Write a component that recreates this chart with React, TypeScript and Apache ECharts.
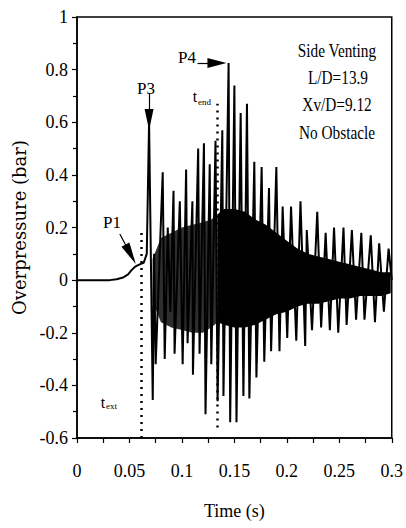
import React, { useEffect, useRef } from "react";
import * as echarts from "echarts";

// Axis ticks
const xTicks = [0, 0.05, 0.1, 0.15, 0.2, 0.25, 0.3];
const xTickLabels = ["0", "0.05", "0.1", "0.15", "0.2", "0.25", "0.3"];
const yTicks = [-0.6, -0.4, -0.2, 0, 0.2, 0.4, 0.6, 0.8, 1];
const yTickLabels = ["-0.6", "-0.4", "-0.2", "0", "0.2", "0.4", "0.6", "0.8", "1"];

// Pressure trace: time (s) and overpressure (bar), peaks and troughs
const signalTime = [
  0, 0.01, 0.02, 0.0313, 0.0377, 0.044, 0.0487, 0.052, 0.0551, 0.0582, 0.0614, 0.0636,
  0.0665, 0.0687, 0.0722, 0.0735, 0.075, 0.0817, 0.0836, 0.0865, 0.089, 0.092, 0.093,
  0.098, 0.1007, 0.104, 0.1054, 0.11, 0.1105, 0.1155, 0.1168, 0.121, 0.1225, 0.1265,
  0.128, 0.132, 0.134, 0.1385, 0.1396, 0.1445, 0.146, 0.15, 0.152, 0.156, 0.1586, 0.162,
  0.1643, 0.169, 0.171, 0.176, 0.1785, 0.183, 0.185, 0.19, 0.193, 0.196, 0.2004, 0.204,
  0.209, 0.213, 0.2175, 0.219, 0.224, 0.229, 0.2327, 0.237, 0.241, 0.245, 0.249, 0.254,
  0.257, 0.262, 0.266, 0.271, 0.274, 0.28, 0.284, 0.288, 0.2925, 0.297, 0.3,
];
const signalP = [
  0, 0, 0, 0, 0.003, 0.01, 0.022, 0.038, 0.05, 0.057, 0.063, 0.066,
  0.1, 0.6, -0.456, 0.1, -0.32, 0.41, -0.3, 0.2, -0.12, 0.34, -0.28,
  0.3, -0.32, 0.42, -0.24, 0.3, -0.36, 0.5, -0.28, 0.52, -0.51, 0.44,
  -0.32, 0.53, -0.46, 0.57, -0.44, 0.825, -0.54, 0.74, -0.54, 0.635, -0.44, 0.67,
  -0.45, 0.45, -0.37, 0.43, -0.31, 0.35, -0.27, 0.43, -0.27, 0.28, -0.22, 0.28,
  -0.23, 0.3, -0.25, 0.19, -0.19, 0.26, -0.18, 0.18, -0.19, 0.2, -0.2, 0.2,
  -0.17, 0.19, -0.15, 0.18, -0.15, 0.17, -0.16, 0.14, -0.12, 0.12, 0,
];

// Early, partly-filled oscillation band (0.07–0.134 s)
const earlyTime = [0.072, 0.08, 0.09, 0.1, 0.11, 0.12, 0.128, 0.134];
const earlyUpper = [0.08, 0.16, 0.18, 0.2, 0.21, 0.22, 0.23, 0.25];
const earlyLower = [-0.08, -0.16, -0.18, -0.19, -0.2, -0.2, -0.18, -0.16];

// Dense, solid oscillation core (0.134–0.3 s)
const coreTime = [
  0.134, 0.14, 0.15, 0.16, 0.17, 0.18, 0.19, 0.2, 0.21, 0.22, 0.23, 0.24, 0.25, 0.26,
  0.27, 0.28, 0.29, 0.299,
];
const coreUpper = [
  0.25, 0.27, 0.27, 0.26, 0.23, 0.21, 0.18, 0.15, 0.12, 0.1, 0.09, 0.08, 0.07, 0.06,
  0.05, 0.04, 0.03, 0.03,
];
const coreLower = [
  -0.16, -0.17, -0.18, -0.18, -0.17, -0.15, -0.13, -0.12, -0.1, -0.09, -0.09, -0.08, -0.07, -0.07,
  -0.06, -0.06, -0.06, -0.05,
];

// Characteristic times (s)
const tExt = 0.0614;
const tEnd = 0.1333;

function lookup(ticks: number[], labels: string[], v: number): string {
  const i = ticks.findIndex((t) => Math.abs(t - v) < 1e-9);
  return i >= 0 ? labels[i] : "";
}

export default function App() {
  const ref = useRef<HTMLDivElement>(null);
  useEffect(() => {
    const chart = echarts.init(ref.current!, null, { renderer: "svg" });
    const serif = "Liberation Serif";
    const signal = signalTime.map((t, i) => [t, signalP[i]]);
    const bands = [
      { time: earlyTime, upper: earlyUpper, lower: earlyLower, opacity: 0.82 },
      { time: coreTime, upper: coreUpper, lower: coreLower, opacity: 1 },
    ];
    const dotted = { color: "#000", width: 2.5, type: [2, 5] as any };
    const arrowLine = { color: "#000", width: 1.2, type: "solid" as const };
    const txt = (x: number, y: number, text: string, size: number, extra: any = {}) => ({
      type: "text",
      x,
      y,
      z: 100,
      style: {
        text,
        fontFamily: serif,
        fontSize: size,
        fill: "#000",
        align: "center",
        verticalAlign: "middle",
        ...extra,
      },
    });
    chart.setOption({
      animation: false,
      grid: {
        left: 77,
        right: 13,
        top: 17,
        bottom: 90,
        show: true,
        borderColor: "#000",
        borderWidth: 1.5,
      },
      xAxis: {
        type: "value",
        min: 0,
        max: 0.3,
        interval: 0.05,
        name: "Time (s)",
        nameLocation: "middle",
        nameGap: 64,
        nameTextStyle: { fontFamily: serif, fontSize: 18, color: "#000" },
        axisLine: { onZero: false, lineStyle: { color: "#000", width: 1.5 } },
        axisTick: { show: true, inside: false, length: 5, lineStyle: { color: "#000", width: 1.2 } },
        minorTick: { show: true, splitNumber: 2, length: 5, lineStyle: { color: "#000", width: 1.2 } },
        splitLine: { show: false },
        axisLabel: {
          margin: 24,
          fontFamily: serif,
          fontSize: 18,
          color: "#000",
          formatter: (v: number) => lookup(xTicks, xTickLabels, v),
        },
      },
      yAxis: {
        type: "value",
        min: -0.6,
        max: 1,
        interval: 0.2,
        name: "Overpressure (bar)",
        nameLocation: "middle",
        nameGap: 47,
        nameTextStyle: { fontFamily: "DejaVu Serif", fontSize: 18, color: "#000" },
        axisLine: { onZero: false, lineStyle: { color: "#000", width: 1.5 } },
        axisTick: { show: true, inside: false, length: 5, lineStyle: { color: "#000", width: 1.2 } },
        minorTick: { show: true, splitNumber: 2, length: 4, lineStyle: { color: "#000", width: 1.2 } },
        splitLine: { show: false },
        axisLabel: {
          margin: 9,
          fontFamily: serif,
          fontSize: 18,
          color: "#000",
          formatter: (v: number) => lookup(yTicks, yTickLabels, v),
        },
      },
      series: [
        {
          type: "custom",
          z: 1,
          data: bands.map((b) => [b.time[0], b.upper[0]]),
          renderItem: (p: any, api: any) => {
            const b = bands[p.dataIndex];
            const upper = b.time.map((t, i) => api.coord([t, b.upper[i]]));
            const lower = b.time.map((t, i) => api.coord([t, b.lower[i]])).reverse();
            return {
              type: "polygon",
              shape: { points: upper.concat(lower) },
              style: { fill: "#000", opacity: b.opacity },
            };
          },
        },
        {
          type: "line",
          z: 2,
          data: signal,
          showSymbol: false,
          symbol: "none",
          lineStyle: { color: "#000", width: 2 },
          markLine: {
            silent: true,
            animation: false,
            label: { show: false },
            data: [
              [
                { coord: [tExt, -0.6], symbol: "none", lineStyle: dotted },
                { coord: [tExt, 0.18], symbol: "none", lineStyle: dotted },
              ],
              [
                { coord: [tEnd, -0.56], symbol: "none", lineStyle: dotted },
                { coord: [tEnd, 0.67], symbol: "none", lineStyle: dotted },
              ],
              [
                { coord: [0.0408, 0.175], symbol: "none", lineStyle: arrowLine },
                { coord: [0.0511, 0.098], symbol: "triangle", symbolSize: [9, 22], lineStyle: arrowLine },
              ],
              [
                { coord: [0.0687, 0.71], symbol: "none", lineStyle: arrowLine },
                { coord: [0.0687, 0.61], symbol: "triangle", symbolSize: [9, 21], lineStyle: arrowLine },
              ],
              [
                { coord: [0.1149, 0.825], symbol: "none", lineStyle: arrowLine },
                { coord: [0.1334, 0.825], symbol: "triangle", symbolSize: [10, 19], lineStyle: arrowLine },
              ],
            ],
          },
        },
      ],
      graphic: [
        txt(112, 222, "P1", 17, {}),
        txt(146, 88, "P3", 17, {}),
        txt(187, 57, "P4", 17, {}),
        txt(195, 96, "t", 16, {}),
        txt(198, 102, "end", 9, { align: "left" }),
        txt(103, 402, "t", 16, {}),
        txt(106, 406, "ext", 9, { align: "left" }),
        { ...txt(337, 51, "Side Venting", 18), scaleX: 0.85 },
        { ...txt(338, 78, "L/D=13.9", 18), scaleX: 0.85 },
        { ...txt(337, 105, "Xv/D=9.12", 18), scaleX: 0.85 },
        { ...txt(337, 133, "No Obstacle", 18), scaleX: 0.85 },
      ],
    });
    return () => chart.dispose();
  }, []);
  return (
    <div
      ref={ref}
      style={{ position: "fixed", left: 0, top: 0, width: 406, height: 528, background: "#fff" }}
    />
  );
}
